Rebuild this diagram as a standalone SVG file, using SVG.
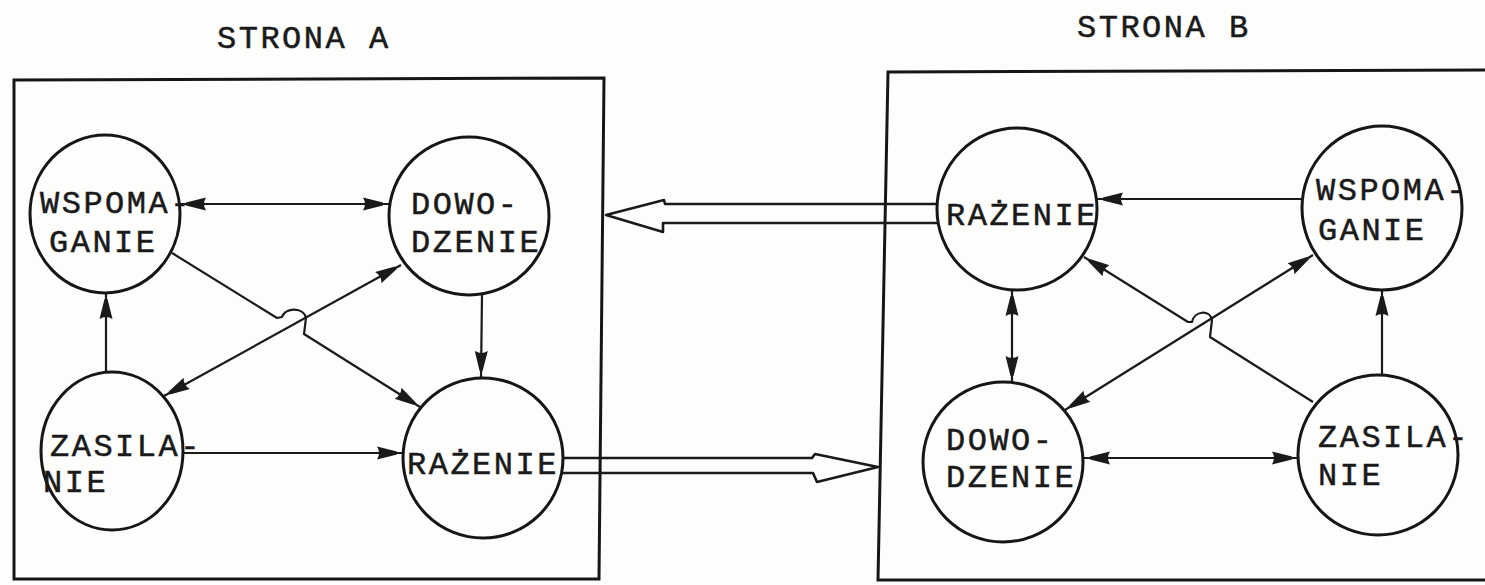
<svg xmlns="http://www.w3.org/2000/svg" width="1485" height="585" viewBox="0 0 1485 585">
<style>
.bg{fill:#fdfdfb}
.frame{fill:none;stroke:#161616;stroke-width:3;stroke-linejoin:miter}
.node{fill:#fdfdfb;stroke:#161616;stroke-width:3}
.t{font-family:"Liberation Mono","DejaVu Sans Mono",monospace;font-size:32px;letter-spacing:2.5px;fill:#1a1a1a;stroke:#1a1a1a;stroke-width:0.5}
.c{fill:none;stroke:#1a1a1a;stroke-width:2.2;stroke-linejoin:round}
.h{fill:none;stroke:#1a1a1a;stroke-width:2.6;stroke-linejoin:round}
</style>
<defs>
<marker id="ah" viewBox="0 -8 28 16" refX="26" refY="0" markerWidth="28" markerHeight="16" markerUnits="userSpaceOnUse" orient="auto-start-reverse">
<path d="M0,-6.5 Q4,0 0,6.5 L20,1.5 L20,-1.5 Z" fill="#1a1a1a"/>
</marker>
</defs>
<rect class="bg" x="0" y="0" width="1485" height="585"/>

<g id="titles">
<text class="t" x="217" y="48">STRONA A</text>
<text class="t" x="1077" y="37">STRONA B</text>
</g>

<g id="frames">
<path id="frame-a" class="frame" d="M14,80 L604,78 L599,579 L14,579 Z"/>
<path id="frame-b" class="frame" d="M1490,70 L888,72 L878,580 L1490,580"/>
</g>

<g id="connectors">
<!-- side A -->
<line class="c" x1="180" y1="204" x2="389" y2="204" marker-start="url(#ah)" marker-end="url(#ah)"/>
<path class="c" d="M172,253 L277,318 L282,317 C285,307 304,307 306,318 L304,334 L420,407" marker-end="url(#ah)"/>
<line class="c" x1="401" y1="265" x2="164" y2="396" marker-start="url(#ah)" marker-end="url(#ah)"/>
<line class="c" x1="106" y1="372" x2="106" y2="293" marker-end="url(#ah)"/>
<line class="c" x1="482" y1="295" x2="481" y2="377" marker-end="url(#ah)"/>
<line class="c" x1="181" y1="453" x2="403" y2="453" marker-end="url(#ah)"/>
<!-- side B -->
<line class="c" x1="1302" y1="199" x2="1097" y2="199" marker-end="url(#ah)"/>
<path class="c" d="M1084,257 L1188,322 L1192,322 C1194,311 1210,309 1212,320 L1210,337 L1313,402" marker-start="url(#ah)"/>
<line class="c" x1="1313" y1="255" x2="1065" y2="410" marker-start="url(#ah)" marker-end="url(#ah)"/>
<line class="c" x1="1012" y1="290" x2="1012" y2="382" marker-start="url(#ah)" marker-end="url(#ah)"/>
<line class="c" x1="1382" y1="375" x2="1382" y2="290" marker-end="url(#ah)"/>
<line class="c" x1="1298" y1="458" x2="1084" y2="458" marker-start="url(#ah)" marker-end="url(#ah)"/>
<!-- between sides: hollow arrows -->
<path class="h" d="M937,204 L665,204 L664,200 L606,215 L663,232 L663,223 L937,223"/>
<path class="h" d="M562,458 L812,458 L815,454 L878,467 L817,482 L813,473 L562,473"/>
</g>

<g id="node-a-wspomaganie">
<ellipse class="node" cx="105" cy="214" rx="75" ry="79"/>
<text class="t" x="40" y="213">WSPOMA-</text>
<text class="t" x="49" y="252">GANIE</text>
</g>
<g id="node-a-dowodzenie">
<ellipse class="node" cx="469" cy="216" rx="80" ry="79"/>
<text class="t" x="411" y="214">DOWO-</text>
<text class="t" x="411" y="252">DZENIE</text>
</g>
<g id="node-a-zasilanie">
<ellipse class="node" cx="112" cy="451" rx="71" ry="79"/>
<text class="t" x="50" y="456">ZASILA-</text>
<text class="t" x="43" y="492">NIE</text>
</g>
<g id="node-a-razenie">
<ellipse class="node" cx="483" cy="458" rx="80" ry="80"/>
<text class="t" x="407" y="474">RAŻENIE</text>
</g>

<g id="node-b-razenie">
<ellipse class="node" cx="1017" cy="209" rx="80" ry="81"/>
<text class="t" x="946" y="225">RAŻENIE</text>
</g>
<g id="node-b-wspomaganie">
<ellipse class="node" cx="1382" cy="208" rx="80" ry="82"/>
<text class="t" x="1316" y="200">WSPOMA-</text>
<text class="t" x="1318" y="240">GANIE</text>
</g>
<g id="node-b-dowodzenie">
<ellipse class="node" cx="1003" cy="462" rx="80" ry="80"/>
<text class="t" x="946" y="450">DOWO-</text>
<text class="t" x="946" y="487">DZENIE</text>
</g>
<g id="node-b-zasilanie">
<ellipse class="node" cx="1378" cy="455" rx="80" ry="80"/>
<text class="t" x="1318" y="447">ZASILA-</text>
<text class="t" x="1318" y="485">NIE</text>
</g>
</svg>
